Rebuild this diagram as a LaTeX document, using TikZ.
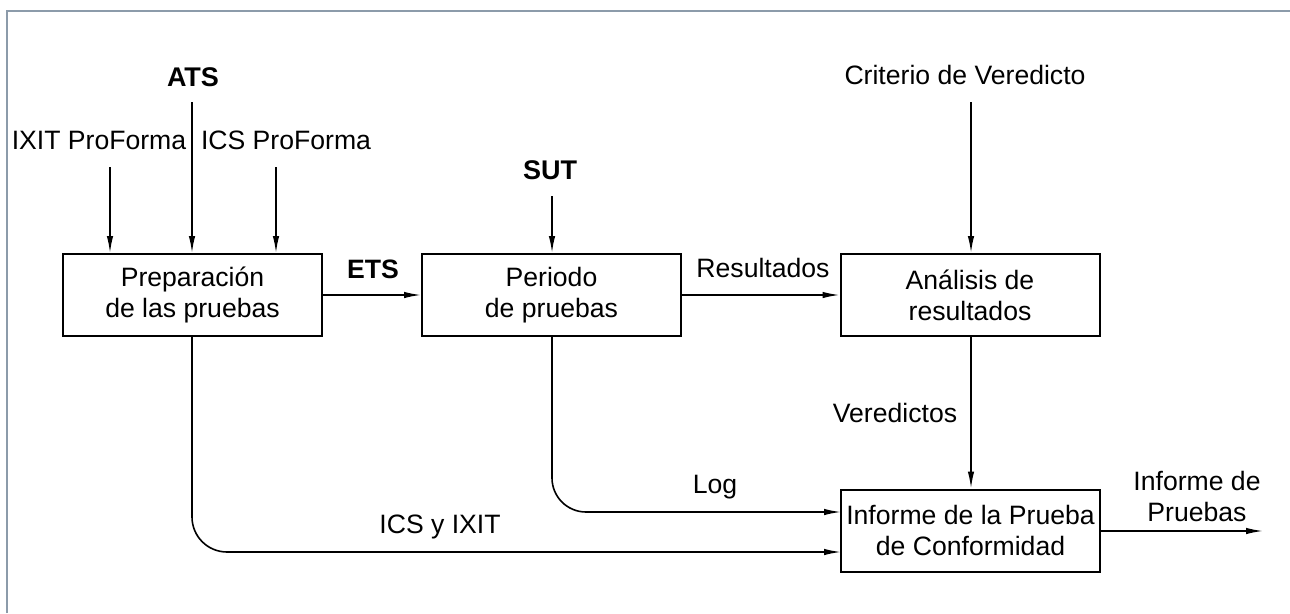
\documentclass[tikz,border=0pt]{standalone}
\usepackage{fontspec}
\setmainfont{Liberation Sans}
\usetikzlibrary{arrows.meta}
\definecolor{framegray}{RGB}{140,155,170}
\begin{document}
\begin{tikzpicture}[x=1pt,y=-1pt,
  every node/.style={font=\fontsize{26.6}{31}\selectfont, inner sep=0pt},
  procbox/.style={draw, line width=2pt, minimum width=259pt, minimum height=82pt, align=center},
  lbl/.style={align=center},
  blbl/.style={font=\fontsize{27}{31}\selectfont\bfseries},
  arr/.style={line width=1.6pt, -{Latex[length=17pt,width=6.5pt]}},
  framel/.style={draw=framegray, line width=1.5pt}]
\useasboundingbox (0,0) rectangle (1290,613);
\draw[framel] (7,613) -- (7,11) -- (1290,11);

% boxes
\node[procbox] (prep) at (192.5,295) {Preparación\\de las pruebas};
\node[procbox] (per)  at (551.5,295) {Periodo\\de pruebas};
\node[procbox] (ana)  at (970,295) {Análisis de\\resultados};
\node[procbox] (inf)  at (970.5,530.5) {Informe de la Prueba\\de Conformidad};

% top labels
\node[blbl] (ats) at (193,77) {ATS};
\node[lbl] (ixit) at (99,140) {IXIT ProForma};
\node[lbl] (icsp) at (286,140) {ICS ProForma};
\node[blbl] (sut) at (550,170) {SUT};
\node[lbl] (crit) at (965,75) {Criterio de Veredicto};

\coordinate (atsS) at (192,102);
\coordinate (ixitS) at (110,167);
\coordinate (icspS) at (276,167);
\coordinate (sutS) at (552,196);
\coordinate (critS) at (971,102);

\draw[arr] (atsS) -- (atsS |- prep.north);
\draw[arr] (ixitS) -- (ixitS |- prep.north);
\draw[arr] (icspS) -- (icspS |- prep.north);
\draw[arr] (sutS) -- (sutS |- per.north);
\draw[arr] (critS) -- (critS |- ana.north);

% horizontal flows
\draw[arr] (prep.east) -- (per.west);
\node[font=\fontsize{26.6}{31}\selectfont\bfseries] (ets) at (373,269) {ETS};
\draw[arr] (per.east) -- (ana.west);
\node[lbl] (res) at (763,268) {Resultados};

\coordinate (verS) at (971,337);
\draw[arr] (verS) -- (verS |- inf.north);
\node[lbl] (ver) at (895,413) {Veredictos};

\coordinate (logS) at (552,337);
\coordinate (logE) at (841,512);
\draw[arr, rounded corners=34pt] (logS) |- (logE);
\node[lbl] (log) at (715,487) {Log};

\coordinate (icsS) at (192,337);
\coordinate (icsE) at (841,552);
\draw[arr, rounded corners=35pt] (icsS) |- (icsE);
\node[lbl] (icsix) at (440,527) {ICS y IXIT};

\coordinate (outE) at (1263,531);
\draw[arr] (inf.east |- outE) -- (outE);
\node[lbl] (outl) at (1197,496) {Informe de\\Pruebas};
\end{tikzpicture}
\end{document}
